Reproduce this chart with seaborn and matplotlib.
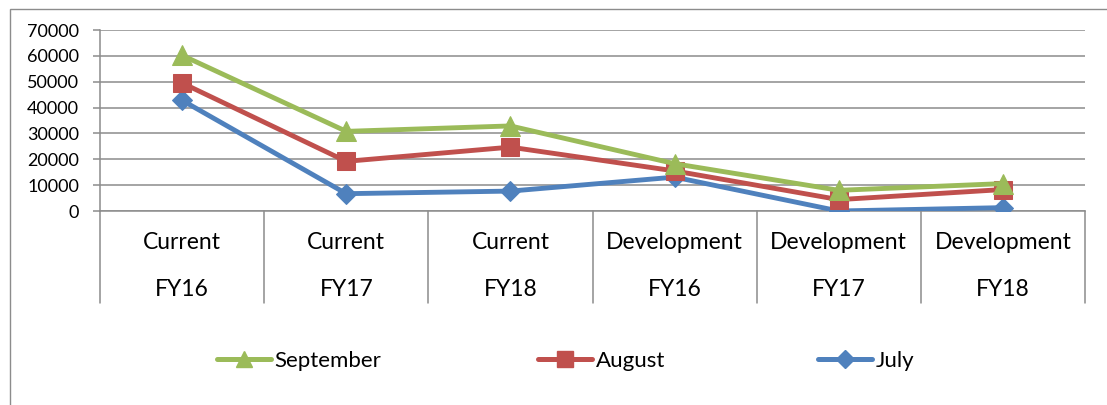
import matplotlib
matplotlib.use("Agg")
import matplotlib.pyplot as plt
import matplotlib.transforms as mtransforms
from matplotlib.lines import Line2D
from matplotlib.patches import Rectangle
import seaborn as sns
import pandas as pd

groups = ["Current", "Current", "Current", "Development", "Development", "Development"]
years = ["FY16", "FY17", "FY18", "FY16", "FY17", "FY18"]
september = [60200, 30800, 32900, 18300, 8000, 10600]
august = [49500, 19200, 24700, 15500, 4400, 8300]
july = [42800, 6700, 7700, 13100, 0, 1300]
yticks = [0, 10000, 20000, 30000, 40000, 50000, 60000, 70000]

series_order = ["July", "August", "September"]
legend_order = ["September", "August", "July"]
values = {"July": july, "August": august, "September": september}
colors = {"September": "#9BBB59", "August": "#C0504D", "July": "#4F81BD"}
markers = {"September": "^", "August": "s", "July": "D"}
msize = {"September": 14, "August": 12.5, "July": 10.5}

rows = []
for s in series_order:
    for i, v in enumerate(values[s]):
        rows.append({"pos": i, "value": v, "series": s})
df = pd.DataFrame(rows)

sns.set_theme(style="white")
plt.rcParams["font.family"] = ["Lato", "DejaVu Sans"]
plt.rcParams["text.color"] = "black"

fig = plt.figure(figsize=(11.07, 4.05), dpi=100)
W, H = 1107, 405
ax = fig.add_axes([100 / W, 1 - 211 / H, (1085 - 100) / W, (211 - 30) / H])

# outer chart border
fig.patches.append(Rectangle((10 / W, -0.05), 1.2, 1 - 9 / H + 0.05, transform=fig.transFigure,
                             fill=False, edgecolor="#8c8c8c", lw=1.0))

for s in series_order:
    sub = df[df["series"] == s]
    sns.lineplot(data=sub, x="pos", y="value", ax=ax, color=colors[s], lw=3.5,
                 marker=markers[s], markersize=msize[s], markeredgecolor=colors[s],
                 legend=False, zorder=3)

ax.set_xlim(-0.5, 5.5)
ax.set_ylim(0, 70000)
ax.set_yticks(yticks)
ax.set_yticklabels([str(t) for t in yticks], fontsize=13, color="black")
ax.set_xticks([])
ax.set_xlabel("")
ax.set_ylabel("")
ax.yaxis.grid(True, color="#8c8c8c", lw=1.1)
ax.set_axisbelow(True)
for sp in ["top", "right"]:
    ax.spines[sp].set_visible(False)
for sp in ["left", "bottom"]:
    ax.spines[sp].set_color("#8c8c8c")
    ax.spines[sp].set_linewidth(1.1)
ax.tick_params(axis="y", which="major", left=True, length=5, width=1.1, color="#8c8c8c", pad=10)

trans = mtransforms.blended_transform_factory(ax.transData, ax.transAxes)
sep_bottom = -(303 - 211) / (211 - 30)
for b in [i - 0.5 for i in range(len(groups) + 1)]:
    ax.add_line(Line2D([b, b], [0, sep_bottom], transform=trans, color="#8c8c8c",
                       lw=1.1, clip_on=False))
y1 = -(242 - 211) / (211 - 30)
y2 = -(289 - 211) / (211 - 30)
for i, (g, yr) in enumerate(zip(groups, years)):
    ax.text(i, y1, g, transform=trans, ha="center", va="center", fontsize=16.5, color="black")
    ax.text(i, y2, yr, transform=trans, ha="center", va="center", fontsize=16.5, color="black")

leg_x = {"September": 217, "August": 538, "July": 818}
lmsize = {"September": 11, "August": 11, "July": 9}
for s in legend_order:
    h = Line2D([], [], color=colors[s], lw=3.6, marker=markers[s], markersize=lmsize[s],
               markeredgecolor=colors[s])
    lg = fig.legend([h], [s], loc="center left", bbox_to_anchor=(leg_x[s] / W, 1 - 361 / H),
                    frameon=False, handlelength=2.45, handletextpad=0.15, fontsize=16,
                    borderpad=0, borderaxespad=0)
    for t in lg.get_texts():
        t.set_color("black")

fig.savefig("out.png", dpi=100)
